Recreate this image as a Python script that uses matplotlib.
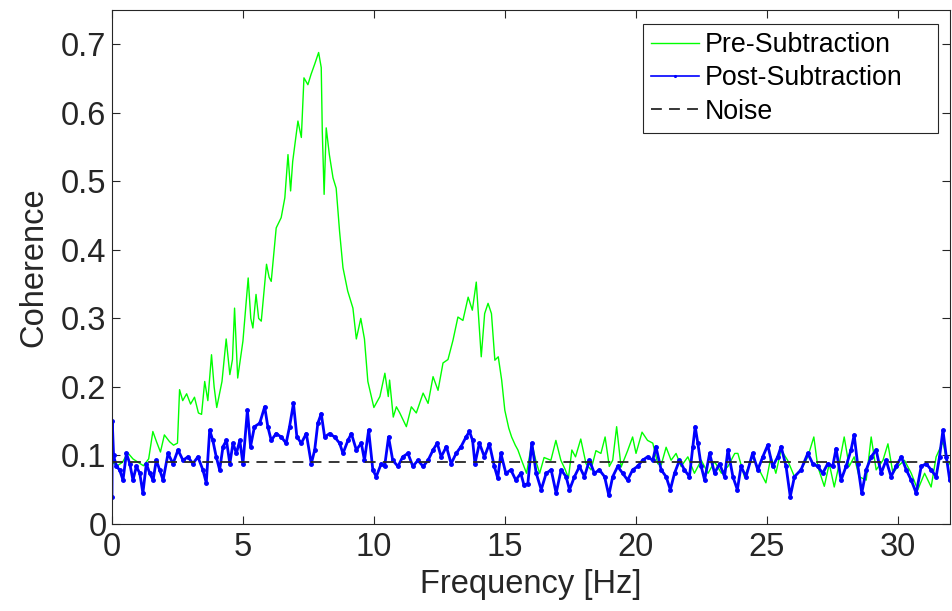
import matplotlib
matplotlib.use('Agg')
import matplotlib.pyplot as plt
import numpy as np

# Pre-Subtraction coherence (green)
pre_freq = [0.0, 0.2, 0.4, 0.6, 0.8, 1.0, 1.2, 1.4, 1.56, 1.7, 1.85, 2.0, 2.2, 2.35, 2.5, 2.58,
            2.7, 2.85, 3.0, 3.15, 3.3, 3.42, 3.54, 3.66, 3.8, 3.9, 4.0, 4.2, 4.36, 4.5, 4.6, 4.68,
            4.8, 4.9, 5.0, 5.2, 5.3, 5.38, 5.5, 5.6, 5.7, 5.9, 6.0, 6.08, 6.27, 6.46, 6.6, 6.72,
            6.82, 6.9, 7.1, 7.23, 7.33, 7.48, 7.6, 7.74, 7.89, 7.99, 8.03, 8.1, 8.18, 8.3, 8.44,
            8.56, 8.69, 8.82, 9.0, 9.2, 9.33, 9.5, 9.64, 9.77, 10.0, 10.23, 10.42, 10.55, 10.6,
            10.74, 10.86, 10.99, 11.24, 11.43, 11.62, 11.88, 12.07, 12.26, 12.45, 12.64, 12.83,
            13.02, 13.21, 13.4, 13.6, 13.76, 13.91, 13.98, 14.1, 14.23, 14.36, 14.49, 14.62,
            14.75, 14.88, 15.0, 15.15, 15.26, 15.4, 15.5, 15.64, 15.83, 16.03, 16.2, 16.33, 16.5,
            16.76, 16.95, 17.14, 17.3, 17.43, 17.56, 17.7, 17.9, 18.1, 18.29, 18.48, 18.67, 18.83,
            18.99, 19.12, 19.27, 19.44, 19.69, 19.88, 20.01, 20.24, 20.45, 20.65, 20.84, 20.97,
            21.16, 21.35, 21.54, 21.73, 21.99, 22.24, 22.5, 22.76, 23.01, 23.27, 23.52, 23.78,
            23.9, 24.15, 24.46, 24.78, 24.97, 25.16, 25.35, 25.55, 25.8, 26.06, 26.31, 26.57,
            26.8, 26.95, 27.2, 27.39, 27.58, 27.77, 27.96, 28.15, 28.34, 28.53, 28.8, 28.99,
            29.18, 29.44, 29.63, 29.82, 30.01, 30.26, 30.52, 30.77, 31.03, 31.28, 31.47, 31.73,
            31.92, 32.0]
pre_coh = [0.09, 0.085, 0.09, 0.104, 0.095, 0.09, 0.085, 0.095, 0.135, 0.12, 0.105, 0.13, 0.12,
           0.115, 0.118, 0.196, 0.18, 0.19, 0.175, 0.185, 0.162, 0.16, 0.208, 0.18, 0.247, 0.2,
           0.17, 0.208, 0.27, 0.218, 0.24, 0.315, 0.213, 0.24, 0.267, 0.359, 0.3, 0.286, 0.335,
           0.3, 0.296, 0.379, 0.36, 0.354, 0.432, 0.447, 0.476, 0.539, 0.486, 0.529, 0.588,
           0.564, 0.651, 0.641, 0.656, 0.671, 0.688, 0.666, 0.573, 0.481, 0.578, 0.539, 0.505,
           0.49, 0.427, 0.374, 0.34, 0.315, 0.27, 0.30, 0.27, 0.208, 0.17, 0.186, 0.22, 0.186,
           0.21, 0.156, 0.171, 0.162, 0.142, 0.171, 0.162, 0.191, 0.176, 0.215, 0.195, 0.235,
           0.24, 0.268, 0.302, 0.297, 0.331, 0.312, 0.353, 0.312, 0.244, 0.307, 0.322, 0.307,
           0.239, 0.244, 0.21, 0.166, 0.14, 0.127, 0.115, 0.108, 0.093, 0.074, 0.118, 0.09,
           0.074, 0.097, 0.093, 0.122, 0.093, 0.08, 0.067, 0.108, 0.098, 0.124, 0.088, 0.079,
           0.107, 0.103, 0.127, 0.084, 0.093, 0.142, 0.083, 0.107, 0.127, 0.103, 0.134, 0.122,
           0.118, 0.088, 0.086, 0.112, 0.093, 0.103, 0.084, 0.098, 0.074, 0.093, 0.074, 0.091,
           0.074, 0.084, 0.103, 0.103, 0.069, 0.098, 0.074, 0.06, 0.098, 0.074, 0.108, 0.093,
           0.069, 0.079, 0.098, 0.127, 0.084, 0.055, 0.088, 0.054, 0.088, 0.127, 0.084, 0.098,
           0.069, 0.064, 0.127, 0.079, 0.093, 0.117, 0.074, 0.084, 0.093, 0.074, 0.05, 0.074,
           0.054, 0.098, 0.12, 0.084, 0.09]

# Post-Subtraction coherence (blue)
post_freq = [0.0, 0.01, 0.06, 0.17, 0.29, 0.42, 0.55, 0.68, 0.8, 0.93, 1.06, 1.18, 1.31, 1.44,
             1.57, 1.69, 1.82, 1.95, 2.14, 2.33, 2.52, 2.71, 2.9, 3.09, 3.28, 3.47, 3.6, 3.73,
             3.85, 3.98, 4.11, 4.24, 4.37, 4.5, 4.62, 4.75, 4.88, 5.0, 5.17, 5.29, 5.44, 5.64,
             5.83, 5.95, 6.08, 6.27, 6.46, 6.65, 6.78, 6.93, 7.06, 7.23, 7.42, 7.61, 7.74, 7.86,
             7.99, 8.12, 8.31, 8.5, 8.69, 8.82, 9.01, 9.14, 9.33, 9.52, 9.64, 9.8, 9.96, 10.09,
             10.28, 10.41, 10.56, 10.72, 10.92, 11.1, 11.3, 11.49, 11.68, 11.88, 12.07, 12.26,
             12.42, 12.57, 12.77, 12.95, 13.14, 13.33, 13.52, 13.65, 13.77, 13.86, 14.03, 14.22,
             14.41, 14.6, 14.73, 14.85, 15.04, 15.23, 15.42, 15.61, 15.73, 15.88, 16.03, 16.2,
             16.39, 16.58, 16.77, 16.96, 17.15, 17.34, 17.47, 17.66, 17.85, 18.04, 18.23, 18.42,
             18.61, 18.81, 18.97, 19.12, 19.31, 19.5, 19.69, 19.88, 20.07, 20.26, 20.45, 20.65,
             20.77, 20.97, 21.16, 21.32, 21.48, 21.67, 21.86, 22.05, 22.18, 22.27, 22.37, 22.5,
             22.63, 22.82, 23.01, 23.2, 23.39, 23.52, 23.71, 23.88, 24.02, 24.21, 24.46, 24.66,
             24.85, 25.04, 25.23, 25.42, 25.55, 25.74, 25.9, 26.06, 26.31, 26.57, 26.76, 26.95,
             27.14, 27.33, 27.52, 27.65, 27.84, 28.03, 28.22, 28.34, 28.47, 28.63, 28.8, 28.99,
             29.18, 29.37, 29.56, 29.75, 29.94, 30.14, 30.33, 30.52, 30.71, 30.9, 31.09, 31.28,
             31.47, 31.6, 31.73, 31.86, 31.99]
post_coh = [0.04, 0.15, 0.10, 0.084, 0.079, 0.064, 0.103, 0.088, 0.064, 0.084, 0.074, 0.045,
            0.088, 0.074, 0.064, 0.093, 0.079, 0.064, 0.103, 0.088, 0.108, 0.093, 0.098, 0.088,
            0.098, 0.079, 0.06, 0.137, 0.122, 0.098, 0.079, 0.113, 0.122, 0.088, 0.118, 0.103,
            0.122, 0.088, 0.166, 0.113, 0.142, 0.147, 0.171, 0.142, 0.122, 0.132, 0.127, 0.118,
            0.142, 0.176, 0.127, 0.118, 0.132, 0.088, 0.108, 0.147, 0.161, 0.127, 0.132, 0.127,
            0.118, 0.103, 0.122, 0.132, 0.108, 0.118, 0.093, 0.137, 0.079, 0.069, 0.088, 0.084,
            0.127, 0.093, 0.084, 0.098, 0.103, 0.084, 0.093, 0.084, 0.093, 0.108, 0.118, 0.098,
            0.113, 0.088, 0.103, 0.113, 0.127, 0.135, 0.122, 0.088, 0.118, 0.098, 0.117, 0.084,
            0.067, 0.103, 0.074, 0.079, 0.064, 0.074, 0.057, 0.059, 0.118, 0.074, 0.05, 0.074,
            0.079, 0.045, 0.079, 0.069, 0.05, 0.069, 0.084, 0.069, 0.093, 0.074, 0.079, 0.069,
            0.042, 0.069, 0.084, 0.074, 0.064, 0.079, 0.084, 0.093, 0.098, 0.093, 0.113, 0.079,
            0.069, 0.05, 0.074, 0.093, 0.079, 0.069, 0.113, 0.142, 0.118, 0.084, 0.064, 0.103,
            0.074, 0.088, 0.069, 0.108, 0.069, 0.05, 0.084, 0.069, 0.103, 0.079, 0.098, 0.115,
            0.084, 0.098, 0.113, 0.084, 0.04, 0.069, 0.079, 0.103, 0.088, 0.084, 0.074, 0.088,
            0.084, 0.11, 0.064, 0.084, 0.108, 0.13, 0.088, 0.045, 0.079, 0.098, 0.108, 0.074,
            0.093, 0.069, 0.084, 0.098, 0.079, 0.064, 0.045, 0.084, 0.088, 0.079, 0.069, 0.098,
            0.137, 0.098, 0.064]

# Noise floor
noise_freq = [0.0, 32.0]
noise_coh = [0.09, 0.09]

xticks = [0, 5, 10, 15, 20, 25, 30]
yticks = [0, 0.1, 0.2, 0.3, 0.4, 0.5, 0.6, 0.7]
ytick_labels = ['0', '0.1', '0.2', '0.3', '0.4', '0.5', '0.6', '0.7']

plt.rcParams['font.family'] = ['Liberation Sans', 'DejaVu Sans']

fig = plt.figure(figsize=(9.53, 6.11), dpi=100)
ax = fig.add_axes([112 / 953, 87 / 611, 838 / 953, 514 / 611])

ax.plot(pre_freq, pre_coh, color='#00ff00', linewidth=1.0, label='Pre-Subtraction')
ax.plot(post_freq, post_coh, color='#0000ff', linewidth=2.0, marker='.', markersize=5,
        label='Post-Subtraction')
ax.plot(noise_freq, noise_coh, color='#262626', linestyle=(0, (6, 4)), linewidth=1.3,
        label='Noise')

ax.set_xlim(0, 32)
ax.set_ylim(0, 0.75)
ax.set_xticks(xticks)
ax.set_yticks(yticks)
ax.set_yticklabels(ytick_labels)
ax.tick_params(direction='in', length=6, width=0.8, top=True, right=True,
               labelsize=23.5, colors='#262626', pad=6)
ax.tick_params(axis='y', pad=4)
for s in ax.spines.values():
    s.set_color('#262626')
    s.set_linewidth(0.8)

ax.set_xlabel('Frequency [Hz]', fontsize=23.5, color='#262626', labelpad=4)
ax.set_ylabel('Coherence', fontsize=23.5, color='#262626', labelpad=8)

# legend box placed where the reference has it
leg = ax.legend(loc='upper left', bbox_to_anchor=(0.6337, 0.7665, 0.352, 0.2062),
                mode='expand', borderaxespad=0, fontsize=19.3, frameon=True, fancybox=False,
                edgecolor='#262626', framealpha=1, handlelength=1.8, handletextpad=0.2,
                labelspacing=0.27, borderpad=0.3, markerscale=0.5)
leg.get_frame().set_linewidth(0.8)
leg.get_lines()[1].set_linewidth(1.2)

fig.savefig('out.png', dpi=100)
